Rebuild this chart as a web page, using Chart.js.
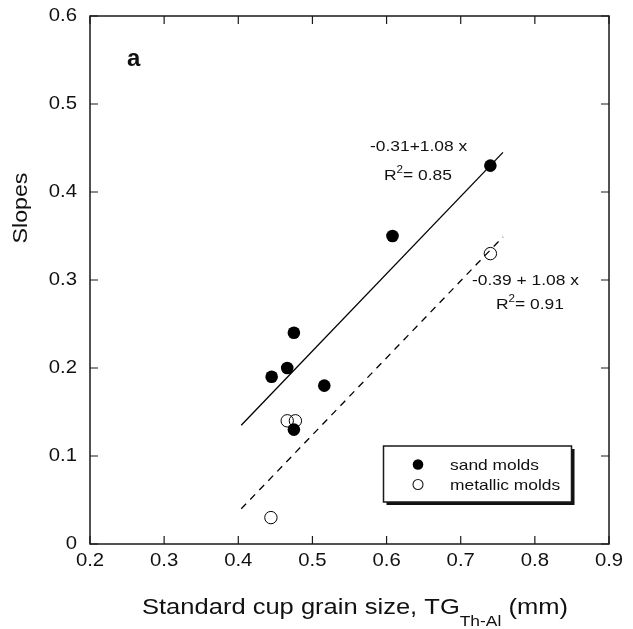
<!DOCTYPE html>
<html lang="en">
  <head>
    <meta charset="UTF-8" />
    <title>Slopes vs standard cup grain size</title>
    <style>
      body { margin: 0; background: #fff; }
    </style>
    <script src="https://cdn.jsdelivr.net/npm/chart.js"></script>
  </head>
  <body>
    <canvas id="myChart" width="633" height="629"></canvas>

    <script>
      // sand molds (filled circles)
      const sandX = [0.445, 0.466, 0.475, 0.475, 0.516, 0.608, 0.74];
      const sandY = [0.19, 0.2, 0.24, 0.13, 0.18, 0.35, 0.43];

      // metallic molds (open circles)
      const metalX = [0.444, 0.466, 0.477, 0.74];
      const metalY = [0.03, 0.14, 0.14, 0.33];

      // fitted lines, end points
      const fitX = [0.404, 0.757];
      const sandFitY = [0.135, 0.445];
      const metalFitY = [0.04, 0.349];

      // axis ranges
      const xRange = [0.2, 0.9];
      const yRange = [0, 0.6];
      const tickStep = 0.1;

      const FONT = "'Liberation Sans', Arial, Helvetica, sans-serif";
      const SX = 1.16; // text is a bit wider than Arial
      const TICK = 8;

      const pts = (xs, ys) => xs.map((x, i) => ({ x: x, y: ys[i] }));

      // draws runs of text one after another, each with its own font / offset
      function drawRuns(ctx, x, y, runs) {
        let cx = x;
        runs.forEach((r) => {
          ctx.save();
          ctx.font = r.font;
          ctx.translate(cx, y + (r.dy || 0));
          ctx.scale(SX, 1);
          ctx.textAlign = "left";
          ctx.textBaseline = "alphabetic";
          ctx.fillText(r.t, 0, 0);
          cx += ctx.measureText(r.t).width * SX;
          ctx.restore();
        });
      }

      function drawText(ctx, s, x, y, font, align, baseline) {
        ctx.save();
        ctx.font = font;
        ctx.translate(x, y);
        ctx.scale(SX, 1);
        ctx.textAlign = align || "left";
        ctx.textBaseline = baseline || "alphabetic";
        ctx.fillText(s, 0, 0);
        ctx.restore();
      }

      const framePlugin = {
        id: "frame",
        afterDraw(chart) {
          const { ctx, chartArea: a, scales } = chart;
          const xs = scales.x;
          const ys = scales.y;
          ctx.save();
          ctx.fillStyle = "#111";
          ctx.strokeStyle = "#1a1a1a";

          // box round the plot
          ctx.lineWidth = 1.5;
          ctx.strokeRect(a.left, a.top, a.right - a.left, a.bottom - a.top);

          // inward ticks on all four sides
          ctx.lineWidth = 1.2;
          ctx.beginPath();
          xs.ticks.forEach((t) => {
            const px = xs.getPixelForValue(t.value);
            ctx.moveTo(px, a.bottom);
            ctx.lineTo(px, a.bottom - TICK);
            ctx.moveTo(px, a.top);
            ctx.lineTo(px, a.top + TICK);
          });
          ys.ticks.forEach((t) => {
            const py = ys.getPixelForValue(t.value);
            ctx.moveTo(a.left, py);
            ctx.lineTo(a.left + TICK, py);
            ctx.moveTo(a.right, py);
            ctx.lineTo(a.right - TICK, py);
          });
          ctx.stroke();

          // tick labels
          const tickFont = "17.5px " + FONT;
          xs.ticks.forEach((t) => {
            const px = xs.getPixelForValue(t.value);
            drawText(ctx, t.value.toFixed(1), px, a.bottom + 17, tickFont, "center", "middle");
          });
          ys.ticks.forEach((t) => {
            const py = ys.getPixelForValue(t.value);
            const s = Math.abs(t.value) < 1e-9 ? "0" : t.value.toFixed(1);
            drawText(ctx, s, a.left - 13, py, tickFont, "right", "middle");
          });

          // axis titles
          const big = "22px " + FONT;
          drawRuns(ctx, 142, 614, [
            { t: "Standard cup grain size, TG", font: big },
            { t: "Th-Al", font: "15px " + FONT, dy: 12 },
            { t: " (mm)", font: big },
          ]);
          ctx.save();
          ctx.translate(27, 208);
          ctx.rotate(-Math.PI / 2);
          ctx.scale(SX, 1);
          ctx.font = "20px " + FONT;
          ctx.textAlign = "center";
          ctx.fillText("Slopes", 0, 0);
          ctx.restore();

          // panel letter
          ctx.font = "bold 24px " + FONT;
          ctx.textAlign = "left";
          ctx.fillText("a", 127, 66);

          // regression labels
          const ann = "15px " + FONT;
          const sup = "10px " + FONT;
          drawText(ctx, "-0.31+1.08 x", 370, 151, ann);
          drawRuns(ctx, 384, 180, [
            { t: "R", font: ann },
            { t: "2", font: sup, dy: -7 },
            { t: "= 0.85", font: ann },
          ]);
          drawText(ctx, "-0.39 + 1.08 x", 472, 285, ann);
          drawRuns(ctx, 496, 309, [
            { t: "R", font: ann },
            { t: "2", font: sup, dy: -7 },
            { t: "= 0.91", font: ann },
          ]);

          // legend box with drop shadow
          const lx = 383.5, ly = 446, lw = 188, lh = 56;
          ctx.fillStyle = "#111";
          ctx.fillRect(lx + 3, ly + 3, lw, lh);
          ctx.fillStyle = "#fff";
          ctx.fillRect(lx, ly, lw, lh);
          ctx.lineWidth = 1.5;
          ctx.strokeRect(lx, ly, lw, lh);

          ctx.fillStyle = "#000";
          ctx.beginPath();
          ctx.arc(418, 464.5, 5.3, 0, Math.PI * 2);
          ctx.fill();
          ctx.lineWidth = 1.1;
          ctx.beginPath();
          ctx.arc(418, 484.5, 5, 0, Math.PI * 2);
          ctx.stroke();

          ctx.fillStyle = "#111";
          drawText(ctx, "sand molds", 450, 470, ann);
          drawText(ctx, "metallic molds", 450, 490, ann);

          ctx.restore();
        },
      };

      new Chart(document.getElementById("myChart"), {
        type: "scatter",
        data: {
          datasets: [
            {
              label: "sand molds",
              data: pts(sandX, sandY),
              backgroundColor: "#000",
              borderColor: "#000",
              borderWidth: 0,
              pointRadius: 6.3,
              order: 1,
            },
            {
              label: "metallic molds",
              data: pts(metalX, metalY),
              backgroundColor: "rgba(0,0,0,0)",
              borderColor: "#000",
              borderWidth: 1,
              pointRadius: 6.2,
              order: 2,
            },
            {
              label: "sand fit",
              type: "line",
              data: pts(fitX, sandFitY),
              borderColor: "#000",
              borderWidth: 1.3,
              pointRadius: 0,
              fill: false,
              order: 3,
            },
            {
              label: "metallic fit",
              type: "line",
              data: pts(fitX, metalFitY),
              borderColor: "#000",
              borderWidth: 1.3,
              borderDash: [7, 6],
              pointRadius: 0,
              fill: false,
              order: 3,
            },
          ],
        },
        options: {
          responsive: false,
          animation: false,
          devicePixelRatio: 1,
          layout: { padding: { top: 16, right: 24, left: 0, bottom: 0 } },
          plugins: { legend: { display: false }, tooltip: { enabled: false } },
          scales: {
            x: {
              type: "linear",
              min: xRange[0],
              max: xRange[1],
              ticks: { stepSize: tickStep, display: false },
              grid: { display: false },
              border: { display: false },
              afterFit: (s) => { s.height = 85; },
            },
            y: {
              type: "linear",
              min: yRange[0],
              max: yRange[1],
              ticks: { stepSize: tickStep, display: false },
              grid: { display: false },
              border: { display: false },
              afterFit: (s) => { s.width = 90; },
            },
          },
        },
        plugins: [framePlugin],
      });
    </script>
  </body>
</html>
